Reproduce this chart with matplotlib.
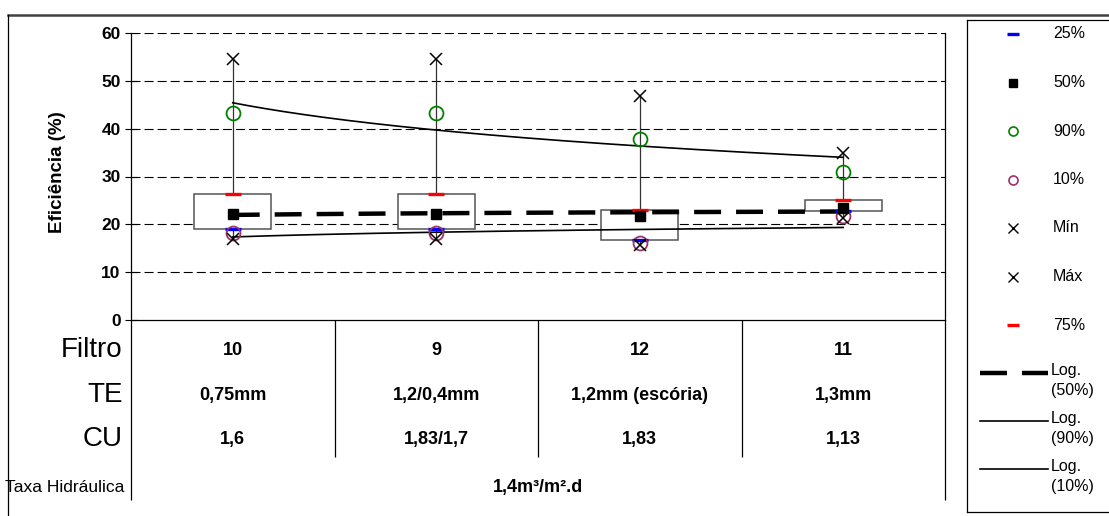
import numpy as np
import matplotlib
matplotlib.use("Agg")
import matplotlib.pyplot as plt
from matplotlib.patches import Rectangle
from matplotlib.lines import Line2D

plt.rcParams['font.family'] = ['Liberation Sans', 'DejaVu Sans']
plt.rcParams['lines.scale_dashes'] = False

# ---- data -------------------------------------------------------------
filtros = ['10', '9', '12', '11']
te_labels = ['0,75mm', '1,2/0,4mm', '1,2mm (escória)', '1,3mm']
cu_labels = ['1,6', '1,83/1,7', '1,83', '1,13']
taxa_label = '1,4m³/m².d'

p_min = [17.0, 17.0, 15.6, 21.4]
p10 = [18.1, 18.1, 16.0, 21.8]
p25 = [19.0, 19.0, 16.7, 22.7]
p50 = [22.2, 22.2, 21.7, 23.4]
p75 = [26.3, 26.3, 23.1, 25.1]
p90 = [43.3, 43.3, 37.9, 31.0]
p_max = [54.5, 54.5, 46.9, 35.0]

y_ticks = [0, 10, 20, 30, 40, 50, 60]

# ---- figure geometry (pixel helpers) ----------------------------------
W, H = 1109, 516
fig = plt.figure(figsize=(W / 100, H / 100), dpi=100)
fig.patch.set_facecolor('white')


def fx(px):
    return px / W


def fy(py):
    return 1 - py / H


# outer frame
fig.add_artist(Line2D([fx(8), 1.0], [fy(15), fy(15)], color='#404040', lw=1.8))
fig.add_artist(Line2D([fx(8), fx(8)], [fy(15), 0.0], color='black', lw=0.9))

# ---- main chart ------------------------------------------------------
ax = fig.add_axes([fx(131), fy(320), fx(945) - fx(131), fy(33) - fy(320)])
x = np.arange(1, len(filtros) + 1)
ax.set_xlim(0.5, len(filtros) + 0.5)
ax.set_ylim(0, 60)

for yv in y_ticks[1:]:
    ax.axhline(yv, color='black', lw=0.8, ls=(0, (6.5, 2.9)), zorder=1)

ax.spines['top'].set_visible(False)
for s in ('left', 'right', 'bottom'):
    ax.spines[s].set_color('black')
    ax.spines[s].set_linewidth(0.9)

ax.set_xticks([])
ax.set_yticks(y_ticks)
ax.set_yticklabels([str(t) for t in y_ticks], fontweight='bold', fontsize=12.5)
ax.tick_params(axis='y', direction='inout', length=9, width=0.8, pad=3)
ax.set_ylabel('Eficiência (%)', fontweight='bold', fontsize=13.5, va='center')
ax.yaxis.set_label_coords((58 - 131) / 814, (320 - 172) / 287)

# boxes (25%-75%) and whiskers
box_w = 0.38
for xi, q25, q75, lo, hi in zip(x, p25, p75, p_min, p_max):
    ax.add_patch(Rectangle((xi - box_w / 2, q25), box_w, q75 - q25,
                           facecolor='white', edgecolor='#555555', lw=1.1, zorder=2))
    ax.vlines(xi, q75, hi, color='#333333', lw=0.9, zorder=1.8)
    ax.vlines(xi, lo, q25, color='#333333', lw=0.9, zorder=1.8)

# logarithmic trendlines
xf = np.linspace(1, len(filtros), 300)


def log_trend(values):
    b, a = np.polyfit(np.log(x), values, 1)
    return a + b * np.log(xf)


ax.plot(xf, log_trend(p50), color='black', lw=3.2, ls=(0, (19.4, 10.8)),
        solid_capstyle='butt', dash_capstyle='butt', zorder=3)
ax.plot(xf, log_trend(p90), color='black', lw=1.2, zorder=3)
ax.plot(xf, log_trend(p10), color='black', lw=1.2, zorder=3)

# percentile markers
ax.plot(x, p25, ls='none', marker='_', ms=12, mew=2.4, color='#0000ff', zorder=4)
ax.plot(x, p75, ls='none', marker='_', ms=12, mew=2.4, color='#ff0000', zorder=4)
ax.plot(x, p50, ls='none', marker='s', ms=7.5, color='black', zorder=5)
ax.plot(x, p90, ls='none', marker='o', ms=10, mfc='none', mec='#008000', mew=1.3, zorder=4)
ax.plot(x, p10, ls='none', marker='o', ms=10, mfc='none', mec='#993366', mew=1.3, zorder=4)
ax.plot(x, p_min, ls='none', marker='x', ms=8.5, mew=1.1, color='black', zorder=6)
ax.plot(x, p_max, ls='none', marker='x', ms=8.5, mew=1.1, color='black', zorder=6)

# ---- data table under the chart --------------------------------------
tax = fig.add_axes([fx(131), fy(500), fx(945) - fx(131), fy(320) - fy(500)])
tax.set_xlim(0.5, len(filtros) + 0.5)
tax.set_ylim(500, 320)
tax.axis('off')
tax.vlines(x[:-1] + 0.5, 320, 457, color='black', lw=0.9, clip_on=False)
tax.vlines([0.5, len(filtros) + 0.5], 320, 500, color='black', lw=0.9, clip_on=False)

row_y = {'Filtro': 350, 'TE': 395, 'CU': 439}
for name, vals in (('Filtro', filtros), ('TE', te_labels), ('CU', cu_labels)):
    tax.text(0.46, row_y[name], name, ha='right', va='center', fontsize=20, clip_on=False)
    for xi, v in zip(x, vals):
        tax.text(xi, row_y[name], v, ha='center', va='center',
                 fontsize=13, fontweight='bold')
tax.text(0.465, 487, 'Taxa Hidráulica', ha='right', va='center', fontsize=12.5,
         clip_on=False)
tax.text((len(filtros) + 1) / 2, 487, taxa_label, ha='center', va='center',
         fontsize=13, fontweight='bold')

# ---- legend panel ----------------------------------------------------
lax = fig.add_axes([fx(967), fy(512), fx(1140) - fx(967), fy(20) - fy(512)])
lax.set_xlim(967, 1140)
lax.set_ylim(512, 20)
lax.set_xticks([])
lax.set_yticks([])
for s in lax.spines.values():
    s.set_color('black')
    s.set_linewidth(0.9)

mx, tx = 1013, 1053
entries = [
    ('25%', dict(marker='_', ms=8, mew=2.4, color='#0000ff')),
    ('50%', dict(marker='s', ms=6, color='black')),
    ('90%', dict(marker='o', ms=6.5, mfc='none', mec='#008000', mew=1.2)),
    ('10%', dict(marker='o', ms=6.5, mfc='none', mec='#993366', mew=1.2)),
    ('Mín', dict(marker='x', ms=6.5, mew=1.0, color='black')),
    ('Máx', dict(marker='x', ms=6.5, mew=1.0, color='black')),
    ('75%', dict(marker='_', ms=8, mew=2.4, color='#ff0000')),
]
ly = 34
for label, style in entries:
    lax.plot([mx], [ly], ls='none', **style)
    lax.text(tx, ly, label, ha='left', va='center', fontsize=11.5)
    ly += 48.5

trend_entries = [
    ('Log.\n(50%)', dict(lw=3.2, ls=(0, (19.4, 10.8)), dash_capstyle='butt')),
    ('Log.\n(90%)', dict(lw=1.2)),
    ('Log.\n(10%)', dict(lw=1.2)),
]
for label, style in trend_entries:
    lax.plot([980, 1048], [ly - 1, ly - 1], color='black', **style)
    lax.text(tx - 2, ly - 11, label, ha='left', va='top', fontsize=11.5, linespacing=1.45)
    ly += 48

fig.savefig('out.png', dpi=100, facecolor='white')
